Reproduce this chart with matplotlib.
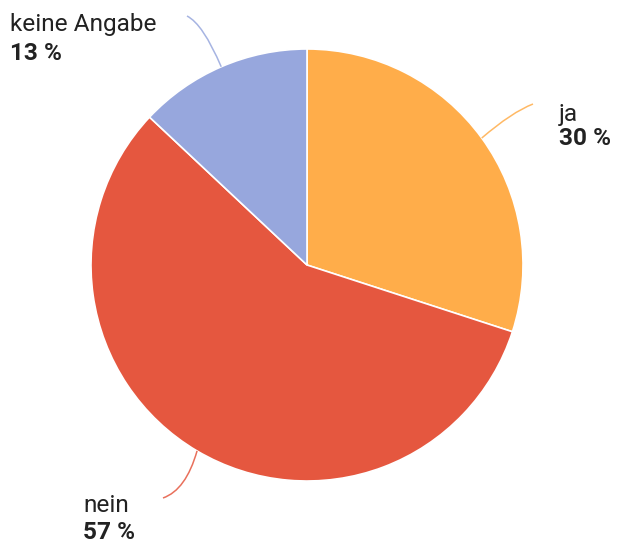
import matplotlib
matplotlib.use("Agg")
import matplotlib.pyplot as plt
from matplotlib.path import Path
from matplotlib.patches import PathPatch
import numpy as np

labels = ["ja", "nein", "keine Angabe"]
values = [30, 57, 13]
pct_labels = ["30 %", "57 %", "13 %"]
colors = ["#FFAD4A", "#E5573F", "#97A7DD"]

W, H = 617, 546
fig = plt.figure(figsize=(W / 100, H / 100), dpi=100)
ax = fig.add_axes([0, 0, 1, 1])

cx, cy, R = 307, H - 265, 216
wedges, _ = ax.pie(values, colors=colors, startangle=90, counterclock=False,
                   center=(cx, cy), radius=R, frame=True,
                   wedgeprops=dict(edgecolor="white", linewidth=1.2))
ax.set_xlim(0, W)
ax.set_ylim(0, H)
ax.set_aspect("equal")
ax.axis("off")

# leader lines (pixel coords, y down): control, end
leaders = {
    "ja": ((512, 112), (533, 104)),
    "nein": ((186, 490), (163, 498)),
    "keine Angabe": ((203, 24), (187, 16)),
}
# text positions: (x, baseline name, baseline pct)
text_pos = {
    "ja": (559, 121, 145),
    "nein": (83, 512, 539),
    "keine Angabe": (10, 31, 60),
}

total = sum(values)
start = 90.0
for lab, v, pl, col in zip(labels, values, pct_labels, colors):
    mid = start - v / total * 360 / 2
    start -= v / total * 360
    sx = cx + R * np.cos(np.radians(mid))
    sy = cy + R * np.sin(np.radians(mid))
    (ctx, cty), (ex, ey) = leaders[lab]
    path = Path([(sx, sy), (ctx, H - cty), (ex, H - ey)],
                [Path.MOVETO, Path.CURVE3, Path.CURVE3])
    ax.add_patch(PathPatch(path, facecolor="none", edgecolor=col, lw=1.1, alpha=0.85))
    tx, b1, b2 = text_pos[lab]
    ax.text(tx, H - b1, lab, fontsize=17.6, family=["Roboto", "DejaVu Sans"],
            color="#222222", va="baseline", ha="left")
    ax.text(tx, H - b2, pl, fontsize=17.6, family=["Roboto", "DejaVu Sans"],
            fontweight="bold", color="#222222", va="baseline", ha="left")

fig.savefig("out.png", dpi=100)
